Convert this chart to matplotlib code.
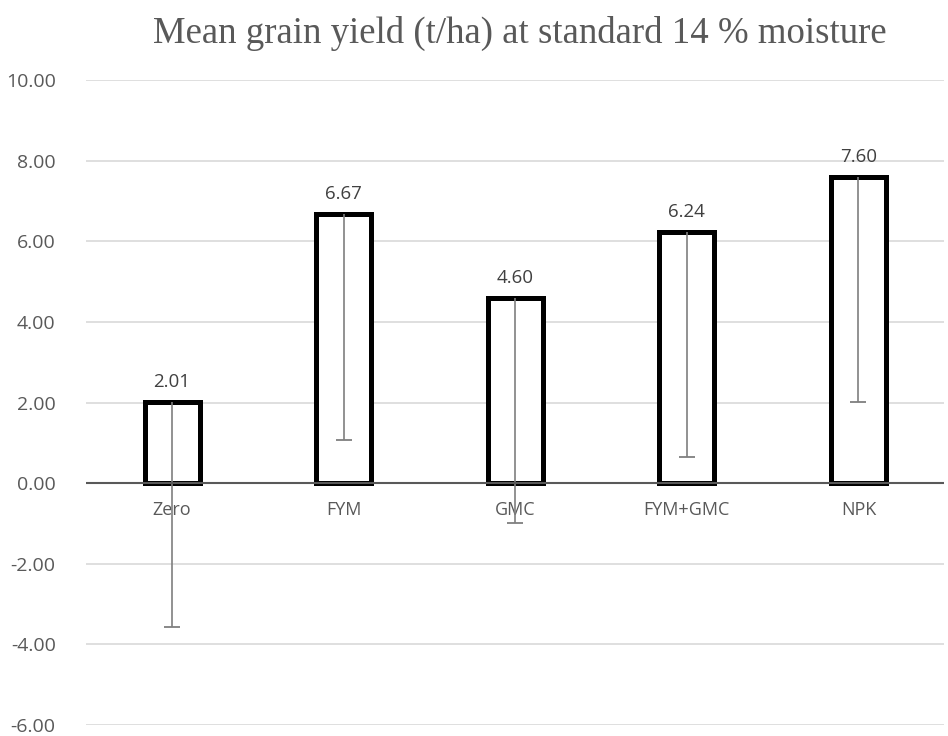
import numpy as np
import matplotlib.pyplot as plt

treatments = ['Zero', 'FYM', 'GMC', 'FYM+GMC', 'NPK']
yields = [2.01, 6.67, 4.60, 6.24, 7.60]
err_minus = [5.58, 5.60, 5.58, 5.59, 5.59]
yticks = [-6, -4, -2, 0, 2, 4, 6, 8, 10]

fig = plt.figure(figsize=(9.48, 7.36), dpi=100)
ax = fig.add_axes([0.091, 0.015, 0.905, 0.876])

x = np.arange(len(treatments))
ax.bar(x, yields, width=0.32, color='white', edgecolor='black', linewidth=3.6, zorder=3)
# minus-only error bars, cap at the lower end only
ax.errorbar(x, yields, yerr=[err_minus, [0] * len(yields)], fmt='none',
            ecolor='#7f7f7f', elinewidth=1.2, capsize=0, zorder=4)
lower = np.array(yields) - np.array(err_minus)
ax.plot(x, lower, linestyle='none', marker='_', markersize=11,
        markeredgewidth=1.3, color='#7f7f7f', zorder=4)

# zero axis line
ax.axhline(0, color='#595959', linewidth=1.5, zorder=5)

for xi, v in zip(x, yields):
    ax.annotate('%.2f' % v, (xi, v), xytext=(0, 8), textcoords='offset points',
                ha='center', va='bottom', fontsize=13.5, color='#404040',
                family='Open Sans')
for xi, t in zip(x, treatments):
    ax.annotate(t, (xi, 0), xytext=(0, -13), textcoords='offset points',
                ha='center', va='top', fontsize=13, color='#595959',
                family='Open Sans')

ax.set_xlim(-0.5, 4.5)
ax.set_ylim(-6, 10)
ax.set_yticks(yticks)
ax.set_yticklabels(['%.2f' % t for t in yticks], fontsize=14, color='#595959',
                   family='Open Sans')
ax.tick_params(axis='y', length=0, pad=22)
ax.set_xticks([])
ax.grid(axis='y', color='#d9d9d9', linewidth=1.2, zorder=0)
for s in ax.spines.values():
    s.set_visible(False)

fig.suptitle('Mean grain yield (t/ha) at standard 14 % moisture', x=0.548, y=0.978,
             fontsize=26.5, family='Liberation Serif', color='#595959')

fig.savefig('out.png', dpi=100)
